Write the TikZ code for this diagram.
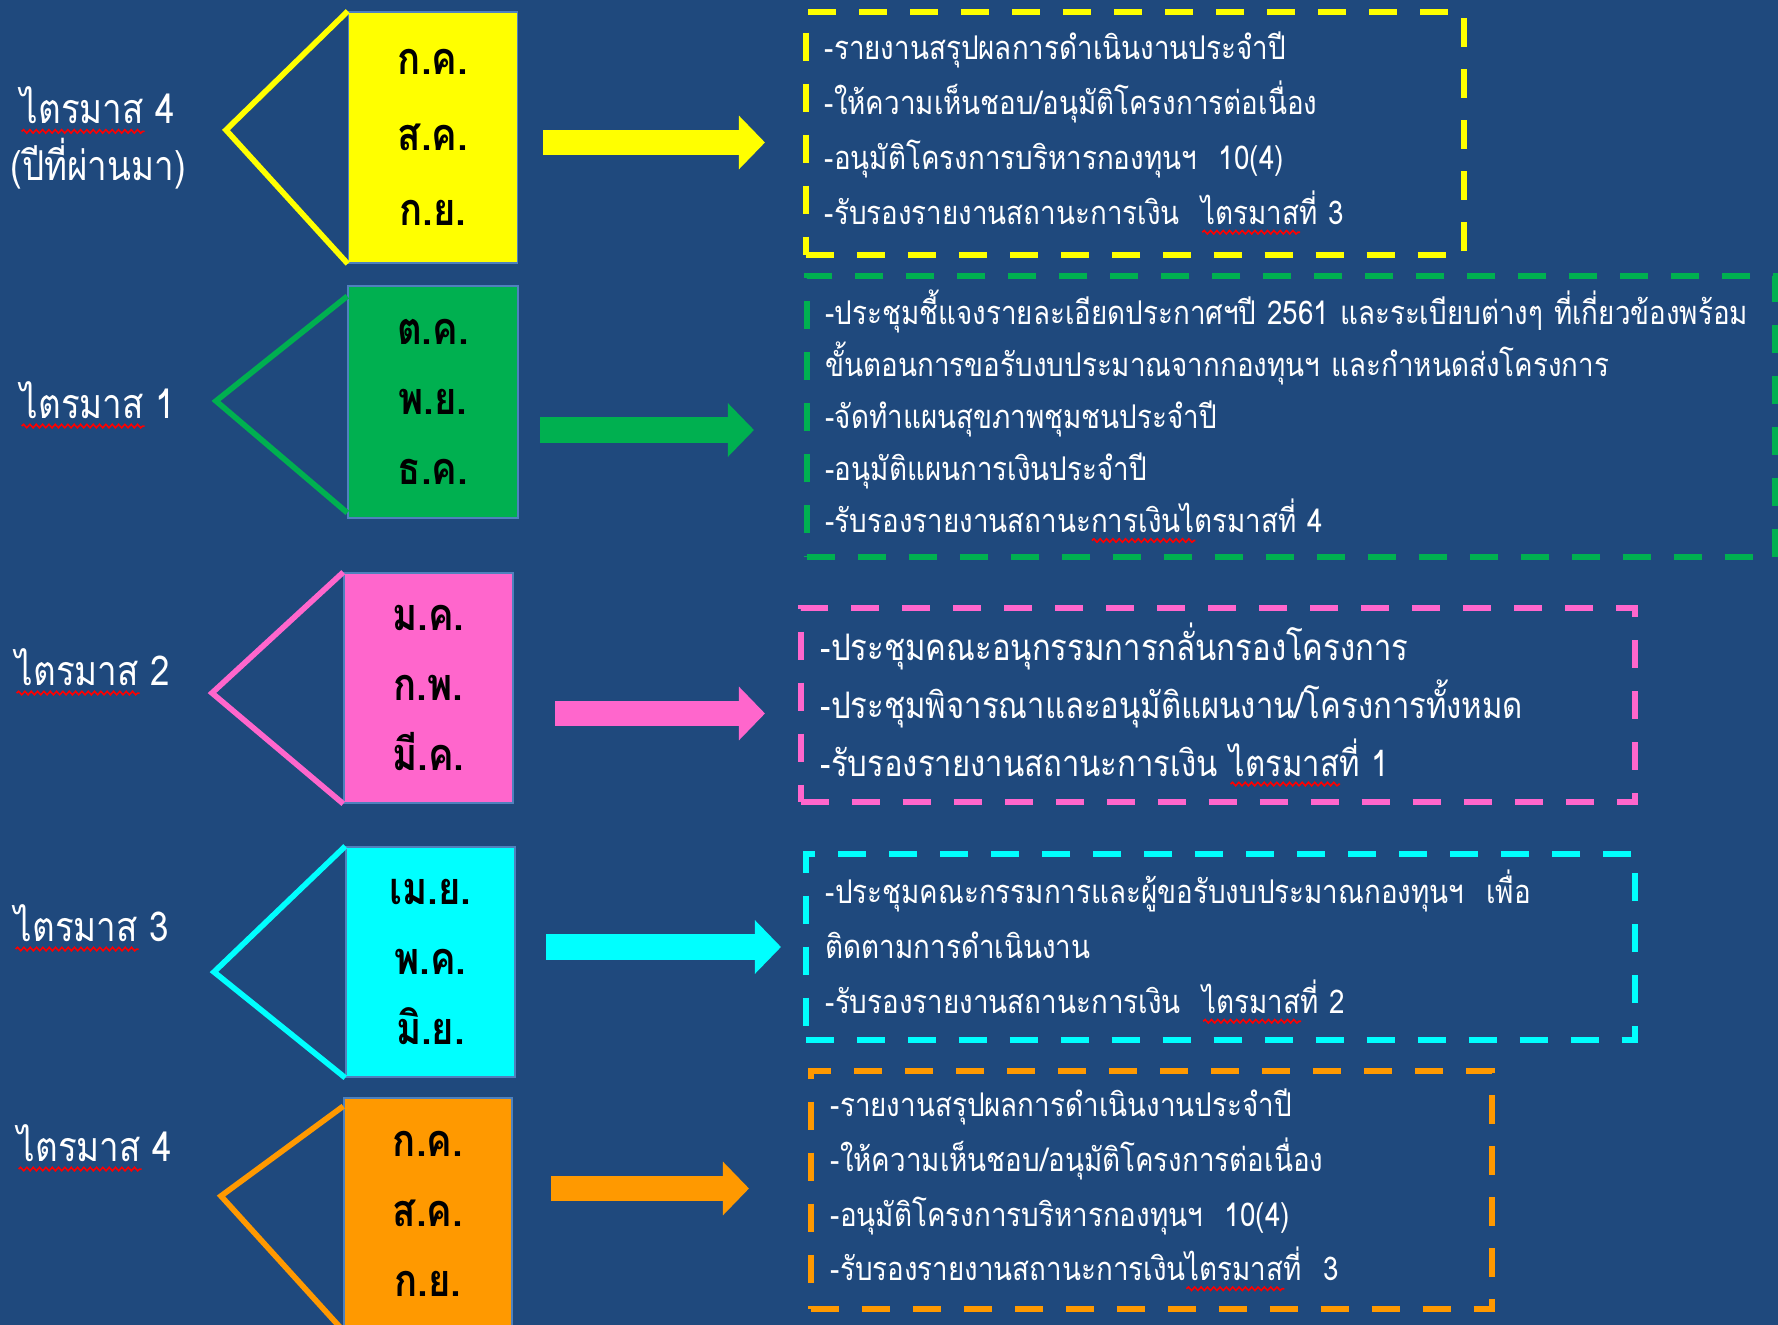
\documentclass[tikz,border=0pt]{standalone}
\usepackage{fontspec}
\usepackage{xcolor}
\usetikzlibrary{arrows.meta,decorations.pathmorphing}
\newfontfamily\thaifont[Script=Thai,FakeStretch=0.85]{Loma}
\definecolor{bgblue}{RGB}{31,73,125}
\definecolor{qyellow}{RGB}{255,255,0}
\definecolor{qgreen}{RGB}{0,176,80}
\definecolor{qpink}{RGB}{255,102,204}
\definecolor{qcyan}{RGB}{0,255,255}
\definecolor{qorange}{RGB}{255,153,0}
\definecolor{rimblue}{RGB}{79,129,189}
\newsavebox\wavebox
\newcommand\spellwave[1]{\sbox\wavebox{#1}\rlap{\tikz[baseline=0pt]\draw[solid,red,line width=0.45pt,decorate,decoration={snake,amplitude=0.5pt,segment length=1.8pt}] (0pt,-2.2pt) -- (\wd\wavebox,-2.2pt);}\usebox\wavebox}

\begin{document}
\begin{tikzpicture}[x=0.01cm,y=-0.01cm,
month/.style={draw=rimblue,line width=0.4pt,minimum width=1.69cm,minimum height=2.31cm,inner sep=0pt,align=center,text=black,font={\thaifont\bfseries\fontsize{12.8}{20}\selectfont}},
plan/.style={draw=#1,line width=1.7pt,dash pattern=on 8pt off 6.5pt,inner xsep=0.19cm,inner ysep=0pt,align=left,text=white,font={\thaifont\fontsize{9.3}{15.6}\selectfont}},
quarter/.style={text=white,align=center,font={\thaifont\fontsize{11.7}{16.2}\selectfont}},
fork/.style={draw=#1,line width=1.6pt},
fat/.style={draw=#1,line width=0.25cm,-{Triangle[length=0.26cm,width=0.52cm]}}]
\useasboundingbox (0,0) rectangle (1778,1325);
\fill[bgblue] (0,0) rectangle (1778,1325);
\clip (0,0) rectangle (1778,1325);

\node[quarter] (q1) at (98,138) {\spellwave{ไตรมาส} 4\\(ปีที่ผ่านมา)};
\node[quarter] (q2) at (98,405) {\spellwave{ไตรมาส} 1};
\node[quarter] (q3) at (93,672) {\spellwave{ไตรมาส} 2};
\node[quarter] (q4) at (92,928) {\spellwave{ไตรมาส} 3};
\node[quarter] (q5) at (95,1148) {\spellwave{ไตรมาส} 4};

\node[month,fill=qyellow,minimum height=2.51cm] (m1) at (433,137.5) {ก.ค.\\[1.5pt]ส.ค.\\[1.5pt]ก.ย.};
\node[month,fill=qgreen,minimum width=1.7cm,minimum height=2.32cm] (m2) at (433,402) {ต.ค.\\พ.ย.\\ธ.ค.};
\node[month,fill=qpink,minimum height=2.3cm] (m3) at (428.5,688) {ม.ค.\\ก.พ.\\มี.ค.};
\node[month,fill=qcyan,minimum height=2.3cm] (m4) at (430.5,962) {เม.ย.\\พ.ค.\\มิ.ย.};
\node[month,fill=qorange,minimum width=1.68cm,minimum height=2.32cm] (m5) at (428,1214) {ก.ค.\\ส.ค.\\ก.ย.};

\coordinate (v1) at (226,130);
\coordinate (v2) at (216,401);
\coordinate (v3) at (212,693);
\coordinate (v4) at (214,972);
\coordinate (v5) at (221,1196);
\draw[fork=qyellow] (m1.north west) -- (v1) -- (m1.south west);
\draw[fork=qgreen] ([yshift=-0.11cm]m2.north west) -- (v2) -- ([yshift=0.06cm]m2.south west);
\draw[fork=qpink] (m3.north west) -- (v3) -- (m3.south west);
\draw[fork=qcyan] (m4.north west) -- (v4) -- (m4.south west);
\draw[fork=qorange] ([yshift=-0.09cm]m5.north west) -- (v5) -- (m5.south west);

\node[plan=qyellow,minimum width=6.58cm,minimum height=2.43cm,text width=6.2cm] (p1) at (1135,133.5) {-รายงานสรุปผลการดำเนินงานประจำปี\\-ให้ความเห็นชอบ/อนุมัติโครงการต่อเนื่อง\\-อนุมัติโครงการบริหารกองทุนฯ~~10(4)\\-รับรองรายงานสถานะการเงิน~~\spellwave{ไตรมาส}ที่ 3};
\node[plan=qgreen,minimum width=9.68cm,minimum height=2.81cm,text width=9.3cm,font={\thaifont\fontsize{9.3}{14.8}\selectfont}] (p2) at (1291,416.5) {-ประชุมชี้แจงรายละเอียดประกาศฯปี 2561 และระเบียบต่างๆ ที่เกี่ยวข้องพร้อม\\ขั้นตอนการขอรับงบประมาณจากกองทุนฯ และกำหนดส่งโครงการ\\-จัดทำแผนสุขภาพชุมชนประจำปี\\-อนุมัติแผนการเงินประจำปี\\-รับรองรายงานสถานะ\spellwave{การเงินไ}ตรมาสที่ 4};
\node[plan=qpink,minimum width=8.34cm,minimum height=1.94cm,inner xsep=0.2cm,text width=7.94cm,font={\thaifont\fontsize{10.4}{16.4}\selectfont}] (p3) at (1218,705) {-ประชุมคณะอนุกรรมการกลั่นกรองโครงการ\\-ประชุมพิจารณาและอนุมัติแผนงาน/โครงการทั้งหมด\\-รับรองรายงานสถานะการเงิน \spellwave{ไตรมาส}ที่ 1};
\node[plan=qcyan,minimum width=8.29cm,minimum height=1.86cm,inner xsep=0.2cm,text width=7.89cm] (p4) at (1220.5,947) {-ประชุมคณะกรรมการและผู้ขอรับงบประมาณกองทุนฯ~~เพื่อ\\ติดตามการดำเนินงาน\\-รับรองรายงานสถานะการเงิน~~\spellwave{ไตรมาส}ที่ 2};
\node[plan=qorange,minimum width=6.81cm,minimum height=2.38cm,inner xsep=0.2cm,text width=6.41cm] (p5) at (1151.5,1190) {-รายงานสรุปผลการดำเนินงานประจำปี\\-ให้ความเห็นชอบ/อนุมัติโครงการต่อเนื่อง\\-อนุมัติโครงการบริหารกองทุนฯ~~10(4)\\-รับรองรายงานสถานะการเงิน\spellwave{ไตรมาส}ที่~~3};

\coordinate (s1) at (543,142.5);  \coordinate (e1) at (765,142.5);
\coordinate (s2) at (540,430);    \coordinate (e2) at (754,430);
\coordinate (s3) at (555,713.5);  \coordinate (e3) at (765,713.5);
\coordinate (s4) at (546,947);    \coordinate (e4) at (781,947);
\coordinate (s5) at (551,1188.5); \coordinate (e5) at (749,1188.5);
\draw[fat=qyellow] (s1) -- (e1);
\draw[fat=qgreen] (s2) -- (e2);
\draw[fat=qpink] (s3) -- (e3);
\draw[fat=qcyan] (s4) -- (e4);
\draw[fat=qorange] (s5) -- (e5);
\end{tikzpicture}
\end{document}
